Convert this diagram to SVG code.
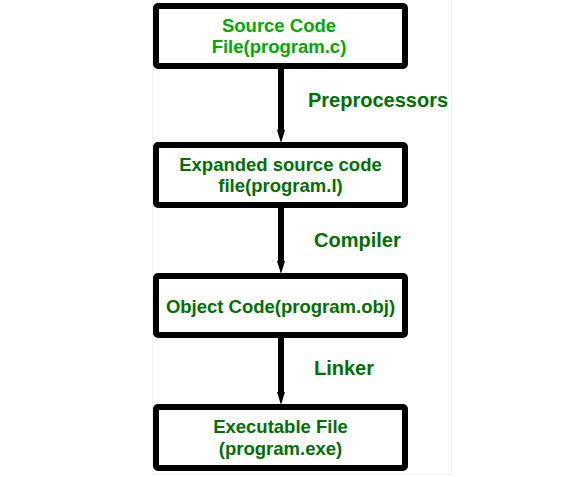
<svg xmlns="http://www.w3.org/2000/svg" width="563" height="477" viewBox="0 0 563 477">
<style>
.box{fill:#ffffff;stroke:#000000;stroke-width:6;}
.t{font-family:"Liberation Sans",Arial,sans-serif;font-weight:bold;font-size:18.5px;fill:#007000;text-anchor:middle;}
.t1{fill:#00aa00;}
.lbl{font-family:"Liberation Sans",Arial,sans-serif;font-weight:bold;font-size:20px;fill:#007000;}
.arr{fill:#000000;}
</style>
<rect x="0" y="0" width="563" height="477" fill="#ffffff"/>
<rect x="152.5" y="-1" width="299" height="475" fill="#ffffff" stroke="#f1f1f1" stroke-width="1"/>
<g id="connectors">
<polygon class="arr" points="278,68 284,68 284,130 285,130 281,143 277,130 278,130"/>
<polygon class="arr" points="278,207 284,207 284,261 285,261 281,274 277,261 278,261"/>
<polygon class="arr" points="278,337 284,337 284,392 285,392 281,405 277,392 278,392"/>
</g>
<g id="label-preprocessors"><text class="lbl" x="308" y="107">Preprocessors</text></g>
<g id="label-compiler"><text class="lbl" x="314" y="247">Compiler</text></g>
<g id="label-linker"><text class="lbl" x="314" y="375">Linker</text></g>
<g id="node-source">
<rect class="box" x="156" y="6" width="249" height="60" rx="2"/>
<text class="t t1" x="279" y="32">Source Code</text>
<text class="t t1" x="279" y="53">File(program.c)</text>
</g>
<g id="node-expanded">
<rect class="box" x="156" y="145" width="249" height="60" rx="2"/>
<text class="t" x="280.5" y="171">Expanded source code</text>
<text class="t" x="280.5" y="192">file(program.l)</text>
</g>
<g id="node-object">
<rect class="box" x="156" y="276" width="249" height="59" rx="2"/>
<text class="t" x="280.5" y="313">Object Code(program.obj)</text>
</g>
<g id="node-exe">
<rect class="box" x="156" y="407" width="249" height="61" rx="2"/>
<text class="t" x="280.5" y="433">Executable File</text>
<text class="t" x="280.5" y="455">(program.exe)</text>
</g>
</svg>
